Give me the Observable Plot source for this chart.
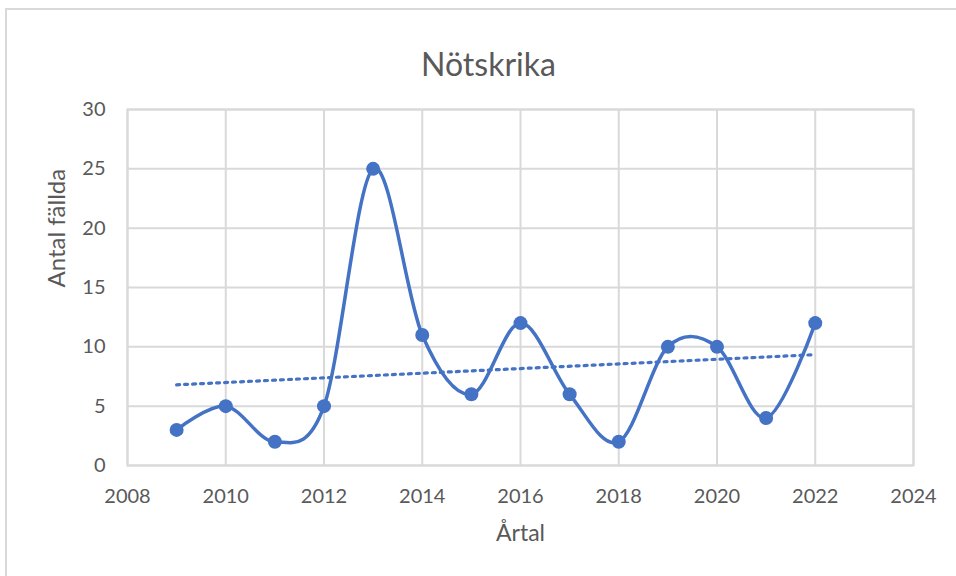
<!DOCTYPE html>
<html><head><meta charset="utf-8">
<script src="https://cdn.jsdelivr.net/npm/d3@7"></script>
<script src="https://cdn.jsdelivr.net/npm/@observablehq/plot@0.6"></script>
<style>
body{margin:0;background:#fff;}
#chart{position:relative;width:956px;height:576px;overflow:hidden;}
#border{position:absolute;left:5px;top:8px;width:1000px;height:1000px;border-top:2px solid #d9d9d9;border-left:2px solid #d9d9d9;}
#chart svg{position:absolute;left:0;top:0;}
</style></head><body>
<div id="chart"><div id="border"></div></div>
<script>
const years = [2009, 2010, 2011, 2012, 2013, 2014, 2015, 2016, 2017, 2018, 2019, 2020, 2021, 2022];
const counts = [3, 5, 2, 5, 25, 11, 6, 12, 6, 2, 10, 10, 4, 12];
const xTicks = [2008, 2010, 2012, 2014, 2016, 2018, 2020, 2022, 2024];
const yTicks = [0, 5, 10, 15, 20, 25, 30];
const title = "Nötskrika";
const xLabel = "Årtal";
const yLabel = "Antal fällda";

const data = years.map((year, i) => ({year, count: counts[i]}));
const blue = "#4472C4";
const grey = "#d9d9d9";
const textColor = "#595959";

const chart = Plot.plot({
  width: 956, height: 576,
  marginLeft: 127, marginRight: 43, marginTop: 109, marginBottom: 111,
  style: {fontFamily: "Lato, 'Open Sans', sans-serif", color: textColor, background: "transparent", overflow: "visible"},
  x: {domain: [2008, 2024]},
  y: {domain: [0, 30]},
  marks: [
    Plot.gridX(xTicks, {stroke: grey, strokeOpacity: 1, strokeWidth: 2}),
    Plot.gridY(yTicks, {stroke: grey, strokeOpacity: 1, strokeWidth: 2}),
    Plot.frame({stroke: grey, strokeWidth: 2}),
    Plot.axisX(xTicks, {tickSize: 0, tickPadding: 23, tickFormat: d => String(d), fontSize: 20, fill: textColor, label: null}),
    Plot.axisY(yTicks, {tickSize: 0, tickPadding: 22, fontSize: 20, fill: textColor, label: null}),
    Plot.text([xLabel], {frameAnchor: "bottom", dy: 75, fontSize: 23, fill: textColor}),
    Plot.text([yLabel], {frameAnchor: "left", rotate: -90, dx: -70, fontSize: 24, fill: textColor}),
    Plot.text([title], {frameAnchor: "top", dy: -56, dx: -32, fontSize: 32, fill: textColor}),
    Plot.linearRegressionY(data, {x: "year", y: "count", ci: 0, stroke: blue, strokeWidth: 3.2, strokeDasharray: "3 5"}),
    Plot.line(data, {x: "year", y: "count", curve: "cardinal", stroke: blue, strokeWidth: 3.5}),
    Plot.dot(data, {x: "year", y: "count", r: 7, fill: blue, stroke: "none"})
  ]
});
document.getElementById("chart").appendChild(chart);
</script>
</body></html>
